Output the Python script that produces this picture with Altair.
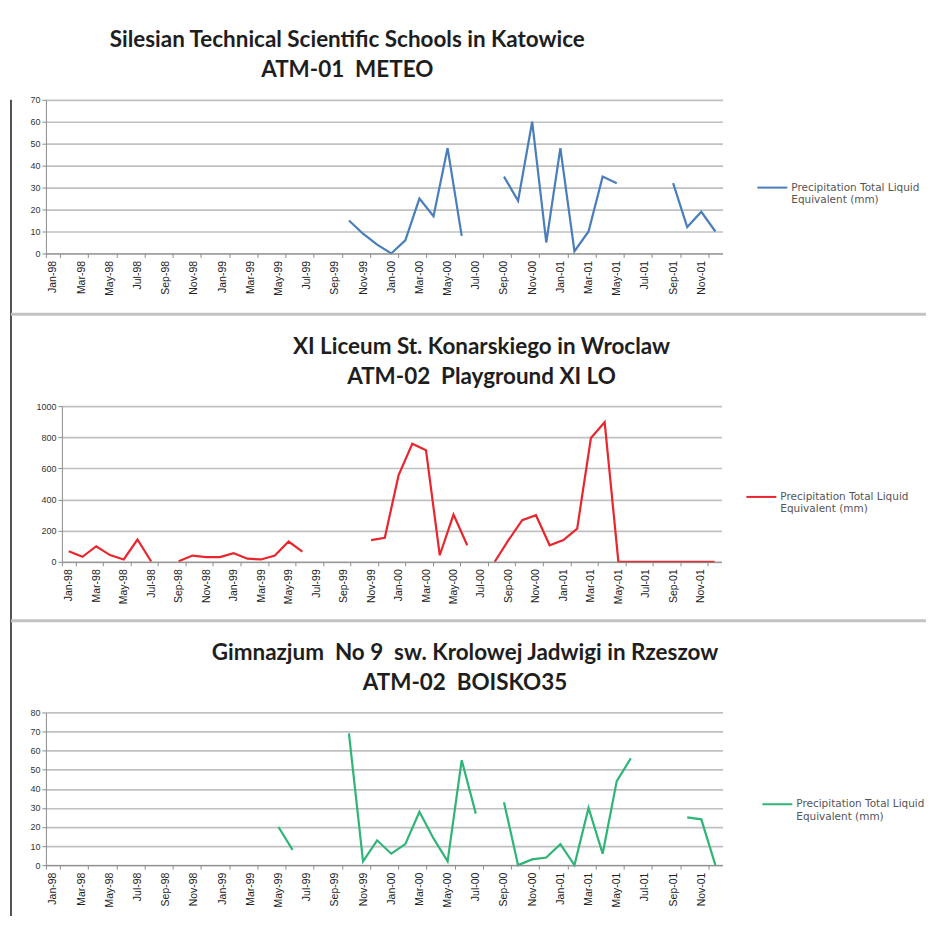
import altair as alt
import pandas as pd

month_names = ["Jan", "Feb", "Mar", "Apr", "May", "Jun", "Jul", "Aug", "Sep", "Oct", "Nov", "Dec"]
years = ["98", "99", "00", "01"]
months = [f"{m}-{y}" for y in years for m in month_names]
tick_labels = months[::2]

series_name = "Precipitation Total Liquid Equivalent (mm)"

N = None
katowice = [N] * 21 + [15, 9, 4, 0, 6, 25, 17, 48, 8, N, N,
                       35, 24, 60, 5, 48, 1, 10, 35, 32, N, N, N,
                       32, 12, 19, 10]
wroclaw = [68, 32, 100, 43, 15, 143, 2, N, 3, 40, 30, 30,
           55, 20, 15, 40, 130, 65, N, N, N, N, 139, 154,
           555, 758, 716, 42, 303, 106, N, 0, 139, 267, 299, 106,
           139, 213, 795, 897, 0, 0, 0, 0, 0, 0, 0, 0]
rzeszow = [N] * 16 + [20, 8, N, N, N, 69, 2, 13,
                      6, 11, 28, 14, 2, 55, 27, N, 33, 0, 3, 4,
                      11, 0, 30, 6, 44, 56, N, N, N, 25, 24, 0]

NB = "\u00a0"
titles = [
    ["Silesian Technical Scientific Schools in Katowice", f"ATM-01{NB}{NB}METEO"],
    ["XI Liceum St. Konarskiego in Wroclaw", f"ATM-02{NB}{NB}Playground XI LO"],
    [f"Gimnazjum{NB}{NB}No 9{NB}{NB}sw. Krolowej Jadwigi in Rzeszow", f"ATM-02{NB}{NB}BOISKO35"],
]
colors = ["#4a7ebb", "#e8262d", "#2eb577"]

dummy = pd.DataFrame({"a": [0]})


def hrule(y, x1, x2, color, w):
    return alt.Chart(dummy).mark_rule(color=color, strokeWidth=w).encode(
        x=alt.value(x1), x2=alt.value(x2), y=alt.value(y)
    )


def vrule(x, y1, y2, color, w):
    return alt.Chart(dummy).mark_rule(color=color, strokeWidth=w).encode(
        x=alt.value(x), y=alt.value(y1), y2=alt.value(y2)
    )


def panel(values, color, ymax, ystep, legx, legy):
    df = pd.DataFrame({"month": months, "value": values, "series": series_name})
    return alt.Chart(df).mark_line(strokeWidth=2.2).encode(
        x=alt.X(
            "month:O",
            bandPosition=0.5,
            scale=alt.Scale(type="band", domain=months, paddingInner=0, paddingOuter=0),
            axis=alt.Axis(
                values=tick_labels, labelAngle=-90, title=None, grid=False,
                tickBand="extent", labelFontSize=10.5, labelColor="#222",
                labelFont="Liberation Sans", domainColor="#8c8c8c",
                tickColor="#8c8c8c", tickSize=4, labelPadding=3, zindex=1,
            ),
        ),
        y=alt.Y(
            "value:Q",
            scale=alt.Scale(domain=[0, ymax], nice=False, zero=True),
            axis=alt.Axis(
                values=list(range(0, ymax + 1, ystep)), title=None, grid=True,
                format="d",
                gridColor="#c0c0c0", gridWidth=1.7, labelFontSize=9,
                labelColor="#333", labelFont="Liberation Sans",
                domainColor="#8c8c8c", tickColor="#8c8c8c", tickSize=4,
            ),
        ),
        color=alt.Color(
            "series:N",
            scale=alt.Scale(range=[color]),
            legend=alt.Legend(
                title=None, orient="none", legendX=legx, legendY=legy,
                symbolType="stroke", symbolSize=900, symbolStrokeWidth=2,
                labelFontSize=10.5, labelColor="#555", labelFont="DejaVu Sans",
                labelExpr="['Precipitation Total Liquid', 'Equivalent (mm)']",
                labelLimit=200, labelOffset=3,
            ),
        ),
    )


def titled(layer, title_lines, width, height, title_dx):
    return layer.properties(
        width=width,
        height=height,
        title=alt.TitleParams(
            text=title_lines, font="Lato", fontSize=22.5, fontWeight="bold",
            color="#1e1e1e", lineHeight=30, anchor="middle", frame="group",
            dx=title_dx, offset=14,
        ),
    )


l1 = panel(katowice, colors[0], 70, 10, 713, 72)
l2 = panel(wroclaw, colors[1], 1000, 200, 702, 75)
l3 = panel(rzeszow, colors[2], 80, 10, 718, 76)

# frame lines of the original figure: left border and panel separators
p1 = titled(alt.layer(
    l1,
    vrule(-35, 0, 818, "#1a1a1a", 1.5),
    hrule(215, -35, 882, "#c2c2c2", 3),
    hrule(522, -35, 882, "#c2c2c2", 3),
), titles[0], 678, 154, -37)

p2 = titled(l2, titles[1], 661, 156, 90)
p3 = titled(l3, titles[2], 678, 153, 81)


def row(p, shift):
    spacer = alt.Chart(dummy).mark_text(text="", opacity=0).properties(width=1, height=10)
    return alt.hconcat(spacer, p, spacing=shift, bounds="flush")


chart = alt.vconcat(
    row(p1, 0), row(p2, 16), row(p3, 0), spacing=307, bounds="flush"
).resolve_scale(color="independent").resolve_legend(color="independent").properties(
    padding={"left": 1, "top": 20, "right": 0, "bottom": 0},
    background="white",
).configure_view(stroke="transparent")

chart.save("out.html", embed_options={"renderer": "svg", "actions": False})
